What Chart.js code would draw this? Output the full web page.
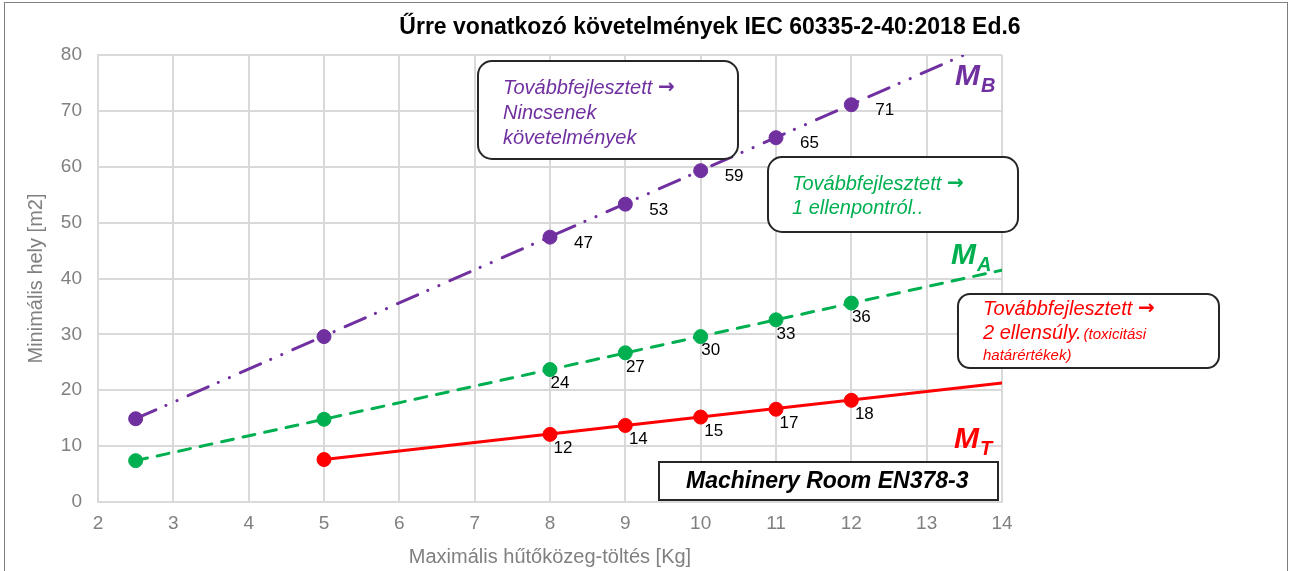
<!DOCTYPE html>
<html lang="hu">
<head>
<meta charset="utf-8">
<title>Űrre vonatkozó követelmények</title>
<script src="https://cdn.jsdelivr.net/npm/chart.js@4.4.1/dist/chart.umd.min.js"></script>
<style>
    html, body { margin: 0; padding: 0; background: #fff; }
    #wrap { width: 1292px; height: 571px; }
</style>
</head>
<body>
<div id="wrap"><canvas id="chart" width="1292" height="571"></canvas></div>
<script>
// Adatok
const xTicks = [2, 3, 4, 5, 6, 7, 8, 9, 10, 11, 12, 13, 14];
const yTicks = [0, 10, 20, 30, 40, 50, 60, 70, 80];

const charges = [2.5, 5, 8, 9, 10, 11, 12];
const mbValues = [14.9, 29.6, 47.4, 53.3, 59.3, 65.2, 71.1];
const mbLabels = [null, null, 47, 53, 59, 65, 71];
const maValues = [7.4, 14.8, 23.7, 26.7, 29.6, 32.6, 35.6];
const maLabels = [null, null, 24, 27, 30, 33, 36];

const mtCharges = [5, 8, 9, 10, 11, 12];
const mtValues = [7.6, 12.1, 13.7, 15.2, 16.6, 18.2];
const mtLabels = [null, 12, 14, 15, 17, 18];

// trendvonalak (kezdő és záró pont)
const mbTrendX = [2.5, 14];
const mbTrendY = [14.9, 83.0];
const maTrendX = [2.5, 14];
const maTrendY = [7.4, 41.5];
const mtTrendX = [5, 14];
const mtTrendY = [7.6, 21.3];

const PURPLE = '#7030A0';
const GREEN = '#00B050';
const RED = '#FF0000';
const GREY = '#808080';
const FONT = '"Liberation Sans", Arial, sans-serif';

function toPoints(xs, ys) {
    return xs.map((x, i) => ({ x: x, y: ys[i] }));
}

function markers(label, xs, ys, color, labels) {
    return {
        label: label,
        data: toPoints(xs, ys),
        showLine: false,
        pointRadius: 7,
        pointBackgroundColor: color,
        pointBorderColor: color,
        valueLabels: labels
    };
}

function trend(label, xs, ys, color, dash) {
    return {
        label: label,
        data: toPoints(xs, ys),
        showLine: true,
        pointRadius: 0,
        borderColor: color,
        borderWidth: 3,
        borderDash: dash,
        borderCapStyle: 'round'
    };
}

// felirat stílusok sorozatonként
const labelStyle = {
    MB: { dx: 24, dy: 6, align: 'left' },
    MA: { dx: 10, dy: 14, align: 'center' },
    MT: { dx: 13, dy: 14, align: 'center' }
};

function roundBox(ctx, x, y, w, h, r) {
    ctx.beginPath();
    ctx.roundRect(x, y, w, h, r);
    ctx.fillStyle = '#fff';
    ctx.fill();
    ctx.lineWidth = 2;
    ctx.strokeStyle = '#262626';
    ctx.stroke();
}

// "Továbbfejlesztett →" sor, nagyobb nyíllal
function arrowLine(ctx, x, y, color) {
    ctx.fillStyle = color;
    ctx.font = 'italic 20px ' + FONT;
    ctx.fillText('Továbbfejlesztett', x, y);
    const w = ctx.measureText('Továbbfejlesztett ').width;
    ctx.font = 'bold 20px "DejaVu Sans", sans-serif';
    ctx.fillText('→', x + w, y);
}

function subLabel(ctx, x, y, main, sub, color) {
    ctx.fillStyle = color;
    ctx.textAlign = 'left';
    ctx.textBaseline = 'alphabetic';
    ctx.font = 'italic bold 30px ' + FONT;
    ctx.fillText(main, x, y);
    const w = ctx.measureText(main).width;
    ctx.font = 'italic bold 20px ' + FONT;
    ctx.fillText(sub, x + w + 1, y + 7);
}

const decorPlugin = {
    id: 'decor',
    beforeDraw(chart) {
        const ctx = chart.ctx;
        ctx.save();
        ctx.fillStyle = '#fff';
        ctx.fillRect(0, 0, chart.width, chart.height);
        ctx.strokeStyle = '#7f7f7f';
        ctx.lineWidth = 1;
        ctx.strokeRect(4.5, 2.5, 1283, 620);
        ctx.restore();
    },
    afterDatasetsDraw(chart) {
        const ctx = chart.ctx;
        ctx.save();
        ctx.font = '17px ' + FONT;
        ctx.fillStyle = '#000';
        ctx.textBaseline = 'middle';
        chart.data.datasets.forEach((ds, i) => {
            if (!ds.valueLabels) return;
            const st = labelStyle[ds.label];
            const meta = chart.getDatasetMeta(i);
            meta.data.forEach((pt, j) => {
                const v = ds.valueLabels[j];
                if (v === null) return;
                ctx.textAlign = st.align;
                ctx.fillText(String(v), pt.x + st.dx, pt.y + st.dy);
            });
        });
        ctx.restore();
    },
    afterDraw(chart) {
        const ctx = chart.ctx;
        ctx.save();

        // cím
        ctx.font = 'bold 23px ' + FONT;
        ctx.fillStyle = '#000';
        ctx.textAlign = 'center';
        ctx.textBaseline = 'middle';
        ctx.fillText('Űrre vonatkozó követelmények IEC 60335-2-40:2018 Ed.6', 710, 28);

        ctx.textAlign = 'left';
        ctx.textBaseline = 'middle';

        // szövegdobozok
        roundBox(ctx, 478, 61, 260, 98, 14);
        arrowLine(ctx, 503, 88, PURPLE);
        ctx.font = 'italic 20px ' + FONT;
        ctx.fillText('Nincsenek', 503, 113);
        ctx.fillText('követelmények', 503, 138);

        roundBox(ctx, 768, 157, 250, 75, 14);
        arrowLine(ctx, 792, 184, GREEN);
        ctx.font = 'italic 20px ' + FONT;
        ctx.fillText('1 ellenpontról..', 792, 208);

        roundBox(ctx, 958, 294, 261, 74, 12);
        arrowLine(ctx, 983, 309, RED);
        ctx.font = 'italic 20px ' + FONT;
        ctx.fillText('2 ellensúly.', 983, 333);
        const w = ctx.measureText('2 ellensúly.').width;
        ctx.font = 'italic 15px ' + FONT;
        ctx.fillText('(toxicitási', 983 + w + 2, 335);
        ctx.fillText('határértékek)', 983, 356);

        // Machinery Room doboz
        ctx.beginPath();
        ctx.rect(659, 462, 339, 38);
        ctx.fillStyle = '#fff';
        ctx.fill();
        ctx.lineWidth = 2;
        ctx.strokeStyle = '#262626';
        ctx.stroke();
        ctx.font = 'italic bold 23px ' + FONT;
        ctx.fillStyle = '#000';
        ctx.fillText('Machinery Room EN378-3', 686, 482);

        // sorozat jelölések
        subLabel(ctx, 955, 85, 'M', 'B', PURPLE);
        subLabel(ctx, 951, 264, 'M', 'A', GREEN);
        subLabel(ctx, 954, 448, 'M', 'T', RED);

        ctx.restore();
    }
};

const chartConfig = {
    type: 'scatter',
    data: {
        datasets: [
            trend('MB trend', mbTrendX, mbTrendY, PURPLE, [22, 11, 0.1, 12, 0.1, 12]),
            trend('MA trend', maTrendX, maTrendY, GREEN, [12, 10]),
            trend('MT trend', mtTrendX, mtTrendY, RED, []),
            markers('MB', charges, mbValues, PURPLE, mbLabels),
            markers('MA', charges, maValues, GREEN, maLabels),
            markers('MT', mtCharges, mtValues, RED, mtLabels)
        ]
    },
    options: {
        responsive: false,
        animation: false,
        devicePixelRatio: 1,
        layout: { padding: { top: 55, right: 290, left: 0, bottom: 0 } },
        scales: {
            x: {
                type: 'linear',
                min: 2,
                max: 14,
                afterBuildTicks: (scale) => { scale.ticks = xTicks.map(v => ({ value: v })); },
                afterFit: (scale) => { scale.height = 69; },
                grid: { color: '#d9d9d9', lineWidth: 2, drawTicks: false },
                border: { color: '#d9d9d9', width: 2 },
                ticks: {
                    color: GREY,
                    padding: 10,
                    font: { family: FONT, size: 19 }
                },
                title: {
                    display: true,
                    text: 'Maximális hűtőközeg-töltés [Kg]',
                    color: GREY,
                    padding: { top: 0, bottom: 2 },
                    font: { family: FONT, size: 20 }
                }
            },
            y: {
                type: 'linear',
                min: 0,
                max: 80,
                afterBuildTicks: (scale) => { scale.ticks = yTicks.map(v => ({ value: v })); },
                afterFit: (scale) => { scale.width = 98; },
                grid: { color: '#d9d9d9', lineWidth: 2, drawTicks: false },
                border: { color: '#d9d9d9', width: 2 },
                ticks: {
                    color: GREY,
                    padding: 16,
                    font: { family: FONT, size: 19 }
                },
                title: {
                    display: true,
                    text: 'Minimális hely [m2]',
                    color: GREY,
                    padding: { top: 24, bottom: 0 },
                    font: { family: FONT, size: 20 }
                }
            }
        },
        plugins: {
            legend: { display: false },
            tooltip: { enabled: false }
        }
    },
    plugins: [decorPlugin]
};

document.addEventListener('DOMContentLoaded', function () {
    const canvas = document.getElementById('chart');
    new Chart(canvas, chartConfig);
});
</script>
</body>
</html>
